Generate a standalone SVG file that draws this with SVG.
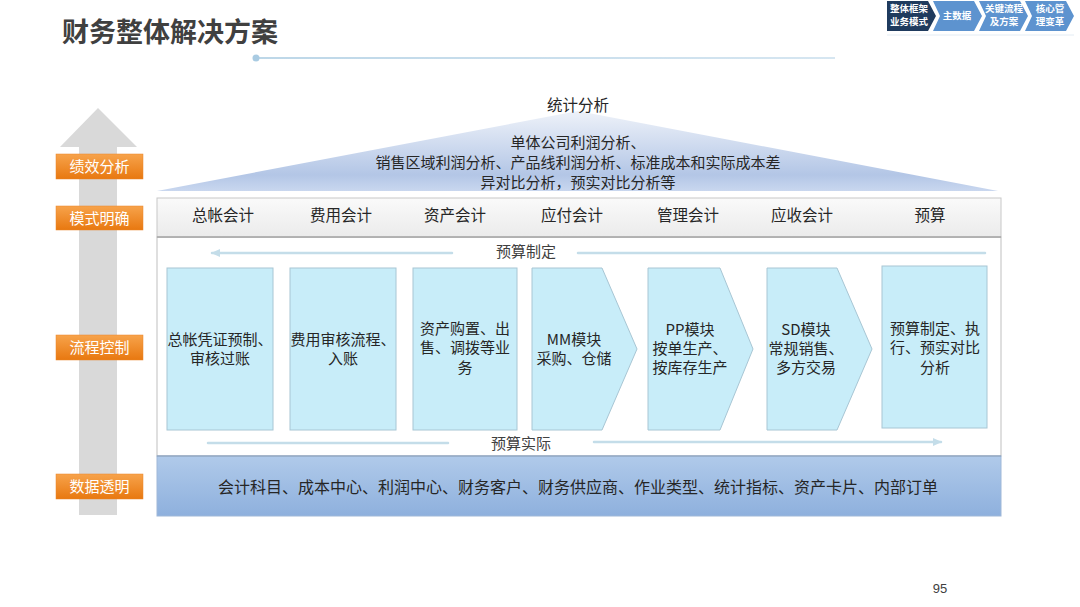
<svg xmlns="http://www.w3.org/2000/svg" width="1080" height="607" viewBox="0 0 1080 607">
<style>
text{font-family:"Microsoft YaHei","Noto Sans CJK SC","Noto Sans",sans-serif;}
.t{font-size:15.5px;fill:#262626;text-anchor:middle;}
.b{font-size:15px;fill:#262626;text-anchor:middle;}
.lab{font-size:15px;fill:#ffffff;text-anchor:middle;}
.nav{font-size:9.5px;fill:#ffffff;text-anchor:middle;font-weight:bold;}
.mod{fill:#c8edf9;stroke:#a8c6d4;stroke-width:1;}
.ln{stroke:#c4dde9;stroke-width:2.5;fill:none;stroke-linecap:round;}
</style>
<defs>
<linearGradient id="og" x1="0" y1="0" x2="0" y2="1"><stop offset="0" stop-color="#f7a34b"/><stop offset="1" stop-color="#e87810"/></linearGradient>
<linearGradient id="tg" x1="0" y1="0" x2="0" y2="1"><stop offset="0" stop-color="#eef2f9"/><stop offset="0.8" stop-color="#b3c6e6"/><stop offset="1" stop-color="#c9d7ef"/></linearGradient>
<linearGradient id="hg" x1="0" y1="0" x2="0" y2="1"><stop offset="0" stop-color="#fafafa"/><stop offset="1" stop-color="#ebebeb"/></linearGradient>
<linearGradient id="dg" x1="0" y1="0" x2="0" y2="1"><stop offset="0" stop-color="#b0caea"/><stop offset="1" stop-color="#8eb0dd"/></linearGradient>
<linearGradient id="tl" gradientUnits="userSpaceOnUse" x1="255" y1="0" x2="835" y2="0"><stop offset="0" stop-color="#bdd7e8"/><stop offset="1" stop-color="#d6e6f1"/></linearGradient>
<marker id="ah" viewBox="0 0 10 10" refX="8" refY="5" markerWidth="4" markerHeight="4" orient="auto"><path d="M0,1 L9,5 L0,9 Z" fill="#c4dde9"/></marker>
</defs>
<rect width="1080" height="607" fill="#ffffff"/>

<g id="title">
<text x="62" y="42" style="font-size:27px;font-weight:bold;fill:#404040;">财务整体解决方案</text>
<line x1="255" y1="58" x2="835" y2="58" stroke="url(#tl)" stroke-width="2"/>
<circle cx="256" cy="58" r="3.5" fill="#a9cbe2"/>
</g>

<g id="nav">
<polygon points="1025,1 1066,1 1074,16 1066,31 1025,31 1032,16" fill="#5d93cf"/>
<polygon points="979,1 1020,1 1028,16 1020,31 979,31 986,16" fill="#5d93cf"/>
<polygon points="933,1 974,1 982,16 974,31 933,31 940,16" fill="#5d93cf"/>
<polygon points="887,1 928,1 936,16 928,31 887,31" fill="#1f3b5e"/>
<text class="nav" x="909" y="12">整体框架</text>
<text class="nav" x="909" y="25">业务模式</text>
<text class="nav" x="957" y="19">主数据</text>
<text class="nav" x="1004" y="12">关键流程</text>
<text class="nav" x="1004" y="25">及方案</text>
<text class="nav" x="1050" y="12">核心管</text>
<text class="nav" x="1050" y="25">理变革</text>
<line x1="887" y1="35" x2="1074" y2="35" stroke="#e3ecf4" stroke-width="1"/>
</g>

<g id="left-arrow">
<polygon points="98,108 137,147 117,147 117,515 79,515 79,147 60,147" fill="#d9d9d9"/>
</g>

<g id="label-jixiao"><rect x="56" y="154" width="87" height="25" fill="url(#og)" stroke="#e9852a" stroke-width="0.5"/><text class="lab" x="99.5" y="172">绩效分析</text></g>
<g id="label-moshi"><rect x="56" y="206" width="87" height="24" fill="url(#og)" stroke="#e9852a" stroke-width="0.5"/><text class="lab" x="99.5" y="223.5">模式明确</text></g>
<g id="label-liucheng"><rect x="56" y="335" width="87" height="25" fill="url(#og)" stroke="#e9852a" stroke-width="0.5"/><text class="lab" x="99.5" y="353">流程控制</text></g>
<g id="label-shuju"><rect x="56" y="474" width="87" height="25" fill="url(#og)" stroke="#e9852a" stroke-width="0.5"/><text class="lab" x="99.5" y="492">数据透明</text></g>

<g id="analysis">
<polygon points="157,191 578,111 998,191" fill="url(#tg)"/>
<text class="t" x="578" y="111">统计分析</text>
<text class="t" x="578" y="148" style="font-size:15px">单体公司利润分析、</text>
<text class="t" x="578" y="168" style="font-size:15px">销售区域利润分析、产品线利润分析、标准成本和实际成本差</text>
<text class="t" x="578" y="188" style="font-size:15px">异对比分析，预实对比分析等</text>
</g>

<g id="frame">
<rect x="157" y="237" width="844" height="219" fill="#ffffff" stroke="#bfbfbf" stroke-width="1"/>
</g>

<g id="header">
<rect x="157" y="198" width="844" height="39" fill="url(#hg)" stroke="#c8c8c8" stroke-width="1"/>
<line x1="157" y1="237" x2="1001" y2="237" stroke="#a6a6a6" stroke-width="1.5"/>
<text class="t" x="223" y="221">总帐会计</text>
<text class="t" x="341" y="221">费用会计</text>
<text class="t" x="455" y="221">资产会计</text>
<text class="t" x="572" y="221">应付会计</text>
<text class="t" x="688" y="221">管理会计</text>
<text class="t" x="802" y="221">应收会计</text>
<text class="t" x="930" y="221">预算</text>
</g>

<g id="connectors">
<line class="ln" x1="452" y1="253" x2="212" y2="253" marker-end="url(#ah)"/>
<line class="ln" x1="578" y1="253" x2="985" y2="253"/>
<line class="ln" x1="208" y1="443" x2="448" y2="443"/>
<line class="ln" x1="594" y1="442" x2="941" y2="442" marker-end="url(#ah)"/>
<text class="b" x="526" y="257" style="fill:#404040">预算制定</text>
<text class="b" x="521" y="449" style="fill:#404040">预算实际</text>
</g>

<g id="m1"><rect class="mod" x="167" y="268" width="106" height="162"/><text class="b" x="220" y="345">总帐凭证预制、</text><text class="b" x="220" y="364">审核过账</text></g>
<g id="m2"><rect class="mod" x="290" y="268" width="106" height="162"/><text class="b" x="343" y="345">费用审核流程、</text><text class="b" x="343" y="364">入账</text></g>
<g id="m3"><rect class="mod" x="413" y="268" width="104" height="162"/><text class="b" x="465" y="334">资产购置、出</text><text class="b" x="465" y="353">售、调拨等业</text><text class="b" x="465" y="373">务</text></g>
<g id="m4"><polygon class="mod" points="532,268 602,268 637,349 602,430 532,430"/><text class="b" x="574" y="345">MM模块</text><text class="b" x="574" y="364">采购、仓储</text></g>
<g id="m5"><polygon class="mod" points="648,268 720,268 753,349 720,430 648,430"/><text class="b" x="690" y="335">PP模块</text><text class="b" x="690" y="354">按单生产、</text><text class="b" x="690" y="373">按库存生产</text></g>
<g id="m6"><polygon class="mod" points="767,268 837,268 872,349 837,430 767,430"/><text class="b" x="806" y="335">SD模块</text><text class="b" x="806" y="354">常规销售、</text><text class="b" x="806" y="373">多方交易</text></g>
<g id="m7"><rect class="mod" x="882" y="266" width="105" height="162"/><text class="b" x="935" y="334">预算制定、执</text><text class="b" x="935" y="353">行、预实对比</text><text class="b" x="935" y="373">分析</text></g>

<g id="data">
<rect x="157" y="456" width="844" height="60" fill="url(#dg)" stroke="#9fb8d8" stroke-width="1"/>
<line x1="157" y1="456" x2="1001" y2="456" stroke="#8a9fb8" stroke-width="1"/>
<text class="t" x="578" y="493" style="font-size:16px">会计科目、成本中心、利润中心、财务客户、财务供应商、作业类型、统计指标、资产卡片、内部订单</text>
</g>

<text x="940" y="593" style="font-size:13px;fill:#404040;text-anchor:middle;font-family:'Liberation Sans',sans-serif">95</text>
</svg>
